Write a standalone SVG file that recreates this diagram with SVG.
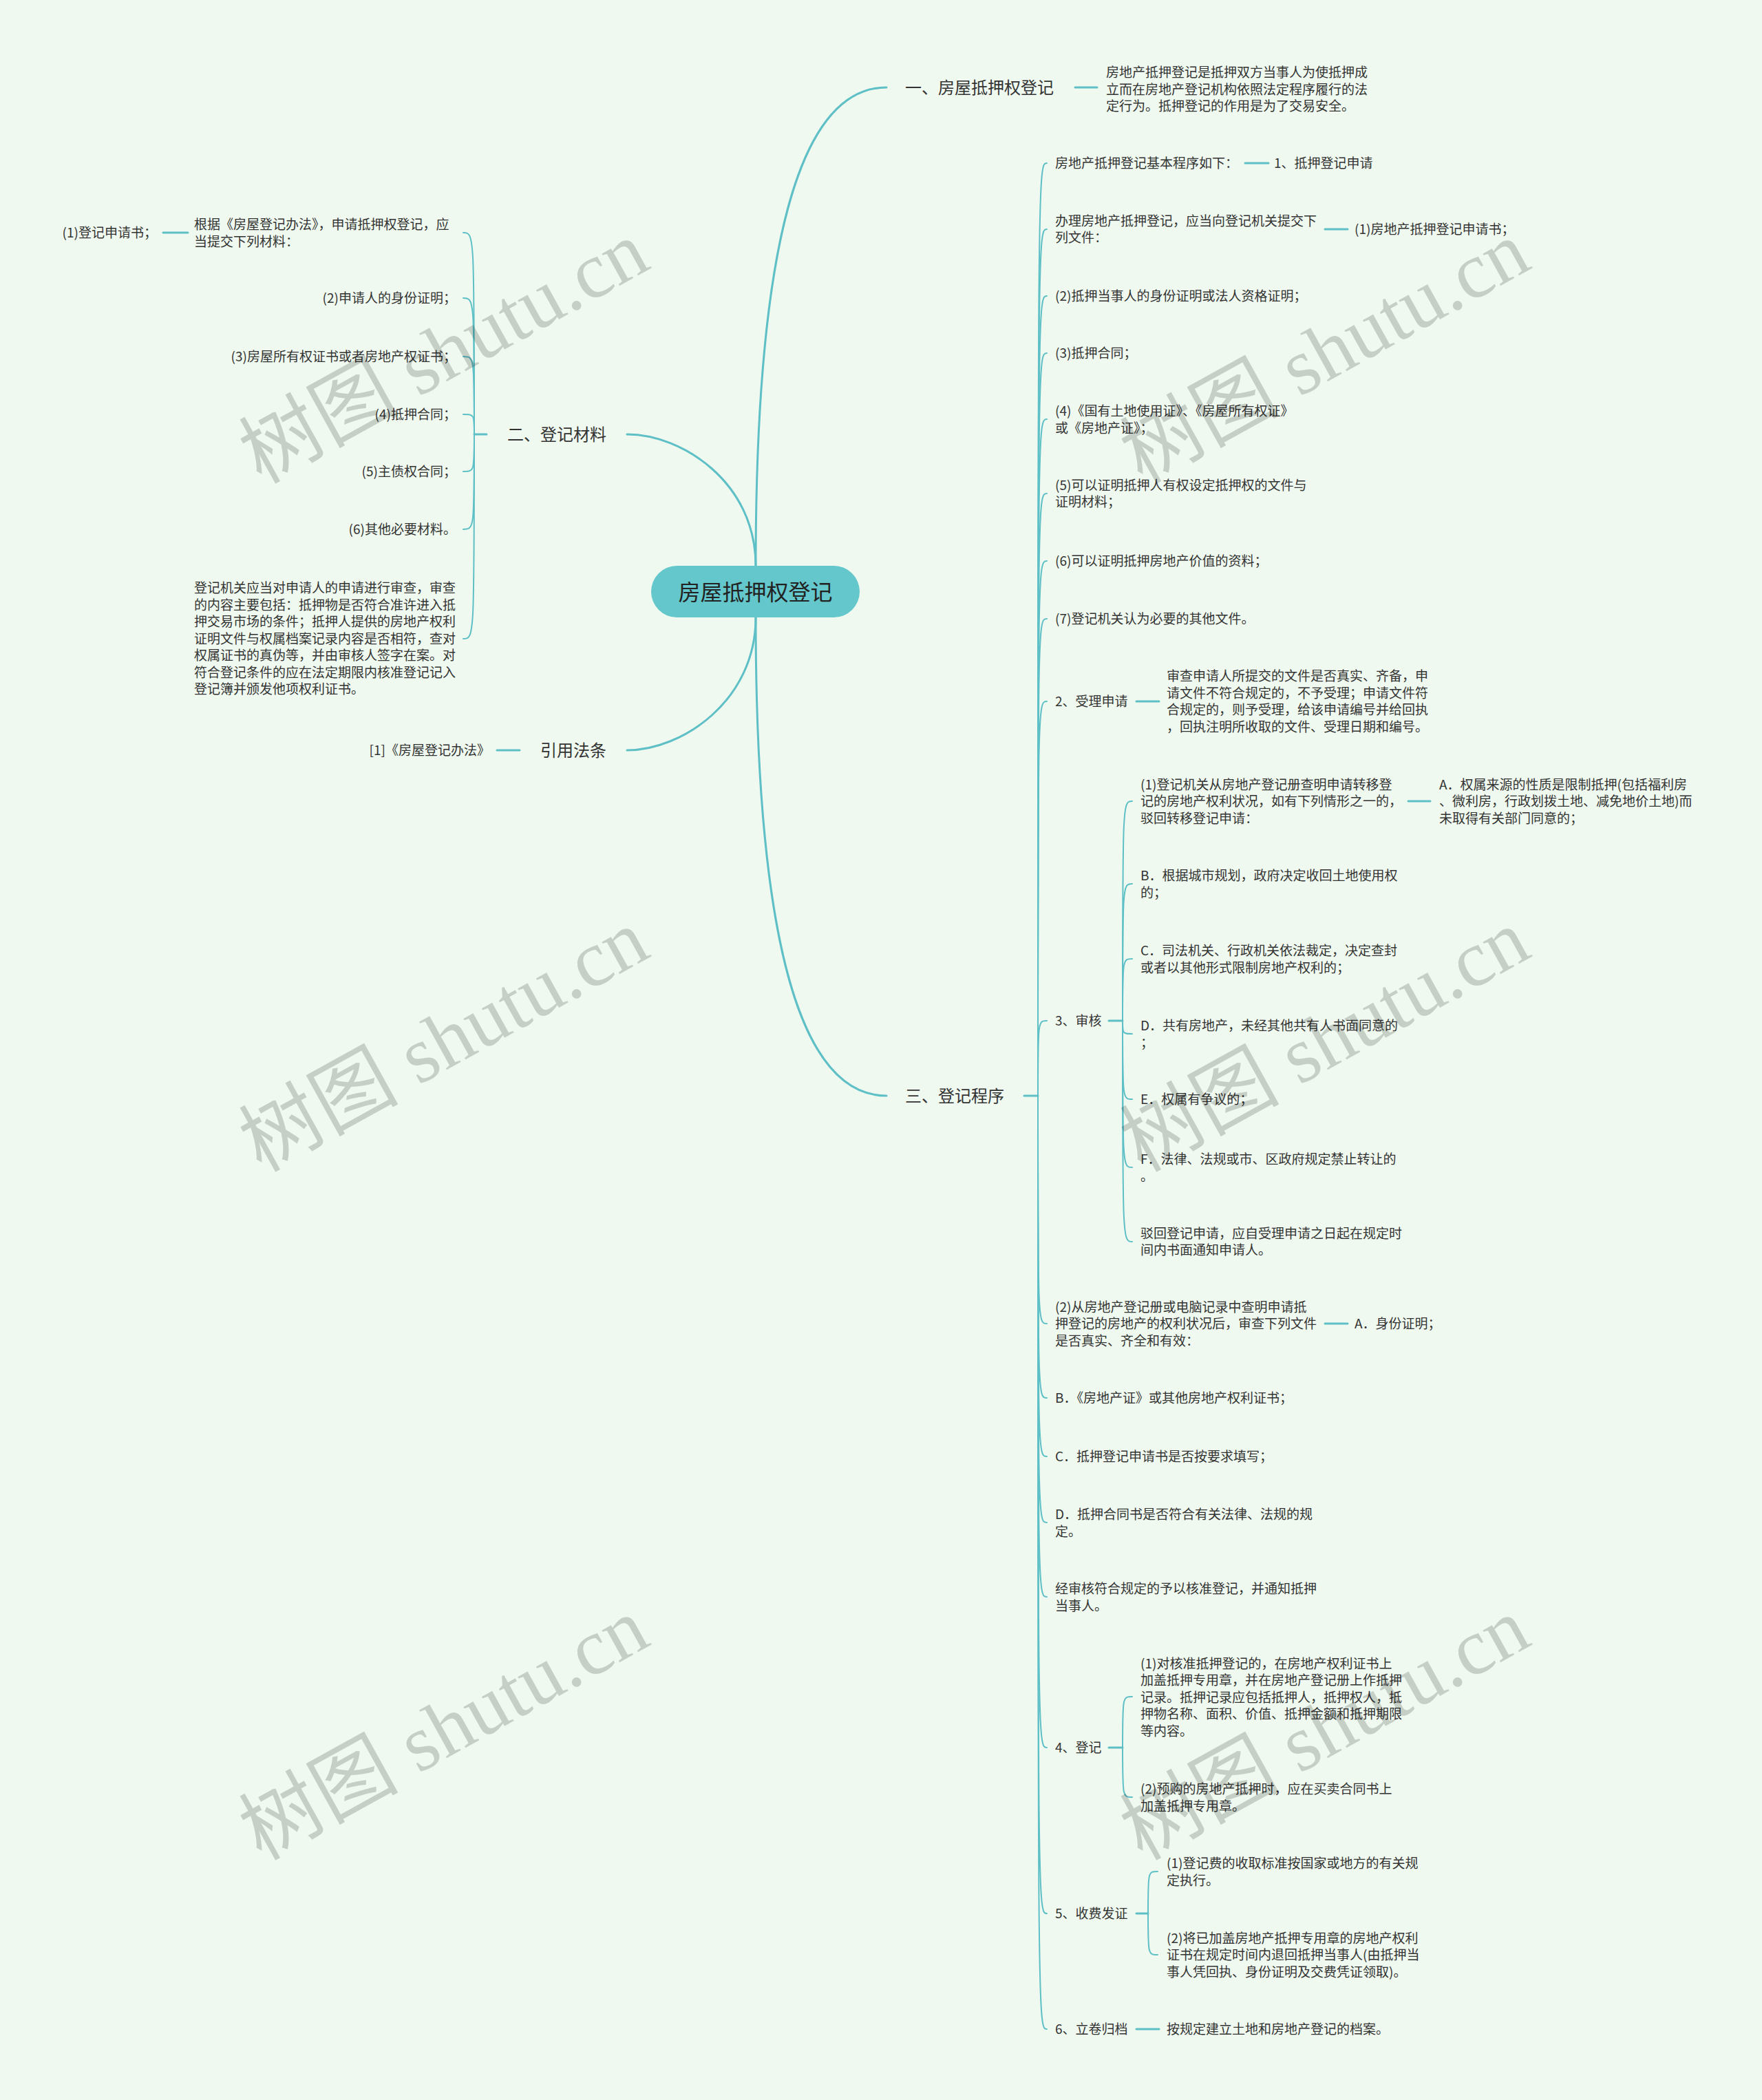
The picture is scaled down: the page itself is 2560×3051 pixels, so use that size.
<svg xmlns="http://www.w3.org/2000/svg" width="2560" height="3051" viewBox="0 0 2560 3051">
<style>
text{font-family:"Noto Sans CJK SC","Liberation Sans",sans-serif;fill:#333;dominant-baseline:central}
.s{font-size:19px;transform:translateY(-2px)}
.b{font-size:24px;transform:translateY(-2px)}
.e{text-anchor:end}
.r{font-size:32px;text-anchor:middle;fill:#222;transform:translateY(-2px)}
.wm{font-family:"Liberation Serif","Noto Sans CJK SC",serif;font-size:116px;fill:#000;fill-opacity:0.17;text-anchor:middle}
#links path{fill:none;stroke:#5ec0c6;stroke-width:2;stroke-linecap:round}
#links .m{stroke-width:3}
</style>
<rect width="2560" height="3051" fill="#eff9ef"/>
<g id="links">
<path class="m" d="M1098,822 C1098,360 1160,127 1288,127"/>
<path class="m" d="M1098,822 C1098,700 990,631 911,631"/>
<path class="m" d="M1098,897 C1098,1359 1160,1592 1288,1592"/>
<path class="m" d="M1098,897 C1098,1019 990,1090 911,1090"/>
<path class="m" d="M1562,127 H1594"/>
<path class="m" d="M707,631 H689"/>
<path d="M689,631 C689,338 689,338 673,338"/>
<path d="M689,631 C689,433 689,433 673,433"/>
<path d="M689,631 C689,518 689,518 673,518"/>
<path d="M689,631 C689,602 689,602 673,602"/>
<path d="M689,631 C689,685 689,685 673,685"/>
<path d="M689,631 C689,769 689,769 673,769"/>
<path d="M689,631 C689,928 689,928 673,928"/>
<path class="m" d="M273,338 H237"/>
<path class="m" d="M755,1090 H722"/>
<path class="m" d="M1488,1592 H1508"/>
<path d="M1508,1592 C1508,237 1508,237 1521,237"/>
<path d="M1508,1592 C1508,333 1508,333 1521,333"/>
<path d="M1508,1592 C1508,430 1508,430 1521,430"/>
<path d="M1508,1592 C1508,513 1508,513 1521,513"/>
<path d="M1508,1592 C1508,609 1508,609 1521,609"/>
<path d="M1508,1592 C1508,717 1508,717 1521,717"/>
<path d="M1508,1592 C1508,815 1508,815 1521,815"/>
<path d="M1508,1592 C1508,899 1508,899 1521,899"/>
<path d="M1508,1592 C1508,1019 1508,1019 1521,1019"/>
<path d="M1508,1592 C1508,1483 1508,1483 1521,1483"/>
<path d="M1508,1592 C1508,1923 1508,1923 1521,1923"/>
<path d="M1508,1592 C1508,2031 1508,2031 1521,2031"/>
<path d="M1508,1592 C1508,2116 1508,2116 1521,2116"/>
<path d="M1508,1592 C1508,2212 1508,2212 1521,2212"/>
<path d="M1508,1592 C1508,2320 1508,2320 1521,2320"/>
<path d="M1508,1592 C1508,2539 1508,2539 1521,2539"/>
<path d="M1508,1592 C1508,2780 1508,2780 1521,2780"/>
<path d="M1508,1592 C1508,2948 1508,2948 1521,2948"/>
<path class="m" d="M1809,237 H1843"/>
<path class="m" d="M1925,333 H1958"/>
<path class="m" d="M1651,1019 H1684"/>
<path class="m" d="M1611,1483 H1631"/>
<path d="M1631,1483 C1631,1164 1631,1164 1645,1164"/>
<path d="M1631,1483 C1631,1284 1631,1284 1645,1284"/>
<path d="M1631,1483 C1631,1393 1631,1393 1645,1393"/>
<path d="M1631,1483 C1631,1502 1631,1502 1645,1502"/>
<path d="M1631,1483 C1631,1597 1631,1597 1645,1597"/>
<path d="M1631,1483 C1631,1696 1631,1696 1645,1696"/>
<path d="M1631,1483 C1631,1804 1631,1804 1645,1804"/>
<path class="m" d="M2046,1164 H2078"/>
<path class="m" d="M1925,1923 H1958"/>
<path class="m" d="M1611,2539 H1631"/>
<path d="M1631,2539 C1631,2465 1631,2465 1645,2465"/>
<path d="M1631,2539 C1631,2611 1631,2611 1645,2611"/>
<path class="m" d="M1651,2780 H1668"/>
<path d="M1668,2780 C1668,2719 1668,2719 1682,2719"/>
<path d="M1668,2780 C1668,2840 1668,2840 1682,2840"/>
<path class="m" d="M1651,2948 H1684"/>
</g>
<g id="root">
<rect x="946" y="822" width="303" height="75" rx="37.5" fill="#63c7cb"/>
<text class="r" x="1097.5" y="859.5">房屋抵押权登记</text>
</g>
<g id="b1">
<text class="b" x="1315" y="127">一、房屋抵押权登记</text>
</g>
<g id="b1-desc">
<text class="s"><tspan x="1607" y="105">房地产抵押登记是抵押双方当事人为使抵押成</tspan><tspan x="1607" y="129.5">立而在房地产登记机构依照法定程序履行的法</tspan><tspan x="1607" y="154">定行为。抵押登记的作用是为了交易安全。</tspan></text>
</g>
<g id="b2">
<text class="b e" x="881" y="631">二、登记材料</text>
</g>
<g id="b2-c0">
<text class="s"><tspan x="282" y="326">根据《房屋登记办法》，申请抵押权登记，应</tspan><tspan x="282" y="350.5">当提交下列材料：</tspan></text>
</g>
<g id="b2-c0-1"><text class="s e" x="228" y="338">(1)登记申请书；</text></g>
<g id="b2-c1"><text class="s e" x="663" y="433">(2)申请人的身份证明；</text></g>
<g id="b2-c2"><text class="s e" x="663" y="518">(3)房屋所有权证书或者房地产权证书；</text></g>
<g id="b2-c3"><text class="s e" x="663" y="602">(4)抵押合同；</text></g>
<g id="b2-c4"><text class="s e" x="663" y="685">(5)主债权合同；</text></g>
<g id="b2-c5"><text class="s e" x="663" y="769">(6)其他必要材料。</text></g>
<g id="b2-c6">
<text class="s"><tspan x="282" y="854.25">登记机关应当对申请人的申请进行审查，审查</tspan><tspan x="282" y="878.75">的内容主要包括：抵押物是否符合准许进入抵</tspan><tspan x="282" y="903.25">押交易市场的条件；抵押人提供的房地产权利</tspan><tspan x="282" y="927.75">证明文件与权属档案记录内容是否相符，查对</tspan><tspan x="282" y="952.25">权属证书的真伪等，并由审核人签字在案。对</tspan><tspan x="282" y="976.75">符合登记条件的应在法定期限内核准登记记入</tspan><tspan x="282" y="1001.25">登记簿并颁发他项权利证书。</tspan></text>
</g>
<g id="b4"><text class="b e" x="881" y="1090">引用法条</text></g>
<g id="b4-c0"><text class="s e" x="712" y="1090">[1]《房屋登记办法》</text></g>
<g id="b3"><text class="b" x="1315" y="1592">三、登记程序</text></g>
<g id="b3-c1"><text class="s" x="1533" y="237">房地产抵押登记基本程序如下：</text></g>
<g id="b3-c1-1"><text class="s" x="1851" y="237">1、抵押登记申请</text></g>
<g id="b3-c2"><text class="s"><tspan x="1533" y="320.75">办理房地产抵押登记，应当向登记机关提交下</tspan><tspan x="1533" y="345.25">列文件：</tspan></text></g>
<g id="b3-c2-1"><text class="s" x="1968" y="333">(1)房地产抵押登记申请书；</text></g>
<g id="b3-c3"><text class="s" x="1533" y="430">(2)抵押当事人的身份证明或法人资格证明；</text></g>
<g id="b3-c4"><text class="s" x="1533" y="513">(3)抵押合同；</text></g>
<g id="b3-c5"><text class="s"><tspan x="1533" y="597">(4)《国有土地使用证》、《房屋所有权证》</tspan><tspan x="1533" y="621.5">或《房地产证》；</tspan></text></g>
<g id="b3-c6"><text class="s"><tspan x="1533" y="704.5">(5)可以证明抵押人有权设定抵押权的文件与</tspan><tspan x="1533" y="729">证明材料；</tspan></text></g>
<g id="b3-c7"><text class="s" x="1533" y="815">(6)可以证明抵押房地产价值的资料；</text></g>
<g id="b3-c8"><text class="s" x="1533" y="899">(7)登记机关认为必要的其他文件。</text></g>
<g id="b3-c9"><text class="s" x="1533" y="1019">2、受理申请</text></g>
<g id="b3-c9-1"><text class="s"><tspan x="1695" y="982.25">审查申请人所提交的文件是否真实、齐备，申</tspan><tspan x="1695" y="1006.75">请文件不符合规定的，不予受理；申请文件符</tspan><tspan x="1695" y="1031.25">合规定的，则予受理，给该申请编号并给回执</tspan><tspan x="1695" y="1055.75">，回执注明所收取的文件、受理日期和编号。</tspan></text></g>
<g id="b3-c10"><text class="s" x="1533" y="1483">3、审核</text></g>
<g id="b3-c10-1"><text class="s"><tspan x="1657" y="1139.5">(1)登记机关从房地产登记册查明申请转移登</tspan><tspan x="1657" y="1164">记的房地产权利状况，如有下列情形之一的，</tspan><tspan x="1657" y="1188.5">驳回转移登记申请：</tspan></text></g>
<g id="b3-c10-1-1"><text class="s"><tspan x="2091" y="1139.5">A．权属来源的性质是限制抵押(包括福利房</tspan><tspan x="2091" y="1164">、微利房，行政划拨土地、减免地价土地)而</tspan><tspan x="2091" y="1188.5">未取得有关部门同意的；</tspan></text></g>
<g id="b3-c10-2"><text class="s"><tspan x="1657" y="1272">B．根据城市规划，政府决定收回土地使用权</tspan><tspan x="1657" y="1296.5">的；</tspan></text></g>
<g id="b3-c10-3"><text class="s"><tspan x="1657" y="1381">C．司法机关、行政机关依法裁定，决定查封</tspan><tspan x="1657" y="1405.5">或者以其他形式限制房地产权利的；</tspan></text></g>
<g id="b3-c10-4"><text class="s"><tspan x="1657" y="1490">D．共有房地产，未经其他共有人书面同意的</tspan><tspan x="1657" y="1514.5">；</tspan></text></g>
<g id="b3-c10-5"><text class="s" x="1657" y="1597">E．权属有争议的；</text></g>
<g id="b3-c10-6"><text class="s"><tspan x="1657" y="1684">F．法律、法规或市、区政府规定禁止转让的</tspan><tspan x="1657" y="1708.5">。</tspan></text></g>
<g id="b3-c10-7"><text class="s"><tspan x="1657" y="1791.5">驳回登记申请，应自受理申请之日起在规定时</tspan><tspan x="1657" y="1816">间内书面通知申请人。</tspan></text></g>
<g id="b3-c11"><text class="s"><tspan x="1533" y="1898.5">(2)从房地产登记册或电脑记录中查明申请抵</tspan><tspan x="1533" y="1923">押登记的房地产的权利状况后，审查下列文件</tspan><tspan x="1533" y="1947.5">是否真实、齐全和有效：</tspan></text></g>
<g id="b3-c11-1"><text class="s" x="1968" y="1923">A．身份证明；</text></g>
<g id="b3-c12"><text class="s" x="1533" y="2031">B．《房地产证》或其他房地产权利证书；</text></g>
<g id="b3-c13"><text class="s" x="1533" y="2116">C．抵押登记申请书是否按要求填写；</text></g>
<g id="b3-c14"><text class="s"><tspan x="1533" y="2200">D．抵押合同书是否符合有关法律、法规的规</tspan><tspan x="1533" y="2224.5">定。</tspan></text></g>
<g id="b3-c15"><text class="s"><tspan x="1533" y="2308">经审核符合规定的予以核准登记，并通知抵押</tspan><tspan x="1533" y="2332.5">当事人。</tspan></text></g>
<g id="b3-c16"><text class="s" x="1533" y="2539">4、登记</text></g>
<g id="b3-c16-1"><text class="s"><tspan x="1657" y="2416.5">(1)对核准抵押登记的，在房地产权利证书上</tspan><tspan x="1657" y="2441">加盖抵押专用章，并在房地产登记册上作抵押</tspan><tspan x="1657" y="2465.5">记录。抵押记录应包括抵押人，抵押权人，抵</tspan><tspan x="1657" y="2490">押物名称、面积、价值、抵押金额和抵押期限</tspan><tspan x="1657" y="2514.5">等内容。</tspan></text></g>
<g id="b3-c16-2"><text class="s"><tspan x="1657" y="2599">(2)预购的房地产抵押时，应在买卖合同书上</tspan><tspan x="1657" y="2623.5">加盖抵押专用章。</tspan></text></g>
<g id="b3-c17"><text class="s" x="1533" y="2780">5、收费发证</text></g>
<g id="b3-c17-1"><text class="s"><tspan x="1695" y="2707">(1)登记费的收取标准按国家或地方的有关规</tspan><tspan x="1695" y="2731.5">定执行。</tspan></text></g>
<g id="b3-c17-2"><text class="s"><tspan x="1695" y="2815.5">(2)将已加盖房地产抵押专用章的房地产权利</tspan><tspan x="1695" y="2840">证书在规定时间内退回抵押当事人(由抵押当</tspan><tspan x="1695" y="2864.5">事人凭回执、身份证明及交费凭证领取)。</tspan></text></g>
<g id="b3-c18"><text class="s" x="1533" y="2948">6、立卷归档</text></g>
<g id="b3-c18-1"><text class="s" x="1695" y="2948">按规定建立土地和房地产登记的档案。</text></g>
<g id="watermarks">
<text class="wm" x="645" y="512" transform="rotate(-29 645 512)">树图 shutu.cn</text>
<text class="wm" x="1925" y="512" transform="rotate(-29 1925 512)">树图 shutu.cn</text>
<text class="wm" x="645" y="1512" transform="rotate(-29 645 1512)">树图 shutu.cn</text>
<text class="wm" x="1925" y="1512" transform="rotate(-29 1925 1512)">树图 shutu.cn</text>
<text class="wm" x="645" y="2512" transform="rotate(-29 645 2512)">树图 shutu.cn</text>
<text class="wm" x="1925" y="2512" transform="rotate(-29 1925 2512)">树图 shutu.cn</text>
</g>
</svg>
